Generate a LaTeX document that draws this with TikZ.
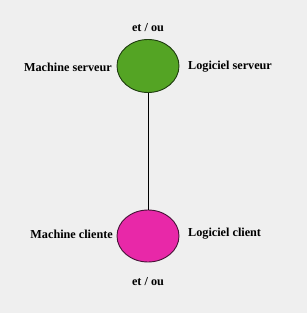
\documentclass[tikz,border=0pt]{standalone}
\usepackage{fontspec}
\setmainfont{Liberation Serif}
\usetikzlibrary{shapes.geometric}
\definecolor{bgc}{RGB}{239,239,239}
\definecolor{srvgreen}{RGB}{84,164,36}
\definecolor{srvborder}{RGB}{30,60,15}
\definecolor{climag}{RGB}{232,40,168}
\definecolor{cliborder}{RGB}{70,20,55}
\tikzset{
  lbl/.style={font=\bfseries\fontsize{12.2}{14}\selectfont, inner sep=0pt, text=black},
  blob/.style={ellipse, minimum width=62pt, minimum height=52pt, inner sep=0pt, line width=0.9pt}
}
\begin{document}
\begin{tikzpicture}[x=1pt,y=1pt]
\fill[bgc] (0,0) rectangle (307,313);
\useasboundingbox (0,0) rectangle (307,313);
\node[blob, fill=srvgreen, draw=srvborder, minimum height=53pt] (srv) at (148,247) {};
\node[blob, fill=climag, draw=cliborder] (cli) at (148,77) {};
\draw[line width=0.9pt, black] (srv.south) -- (cli.north);
\node[lbl] (etou1) at (148,285) {et / ou};
\node[lbl, anchor=east] (ms) at (112,246) {Machine serveur};
\node[lbl, anchor=west] (ls) at (188,246) {Logiciel serveur};
\node[lbl, anchor=east] (mc) at (113,79) {Machine cliente};
\node[lbl, anchor=west] (lc) at (188,79) {Logiciel client};
\node[lbl] (etou2) at (148,31) {et / ou};
\end{tikzpicture}
\end{document}
